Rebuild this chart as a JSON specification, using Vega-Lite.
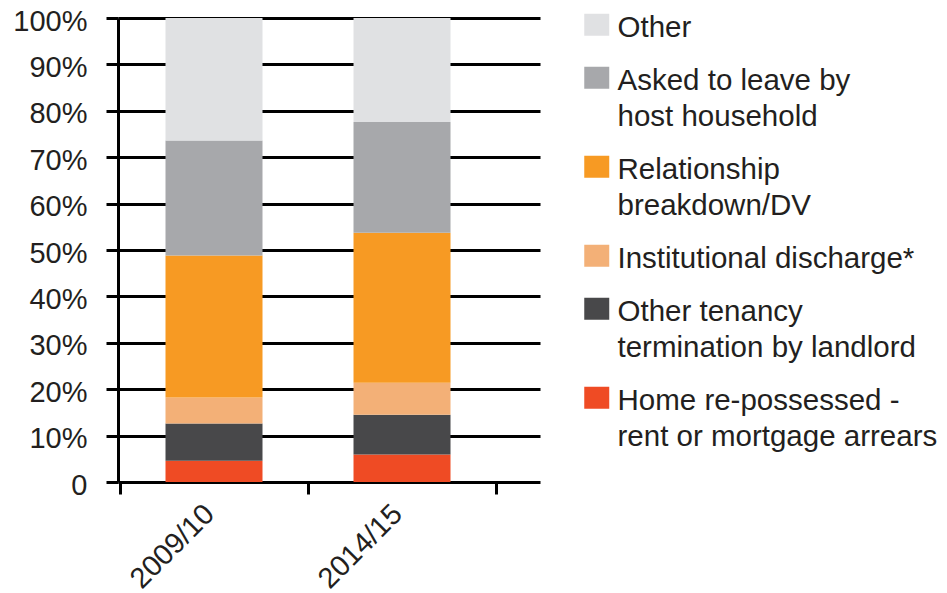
{
  "$schema": "https://vega.github.io/schema/vega-lite/v6.json",
  "autosize": "none",
  "width": 422,
  "height": 464,
  "padding": {"left": 118, "top": 18, "right": 407, "bottom": 111},
  "background": "white",
  "data": {
    "values": [
      {"year": "2009/10", "cause": "Home re-possessed - rent or mortgage arrears", "order": 1, "pct": 4.6},
      {"year": "2009/10", "cause": "Other tenancy termination by landlord", "order": 2, "pct": 8.0},
      {"year": "2009/10", "cause": "Institutional discharge*", "order": 3, "pct": 5.6},
      {"year": "2009/10", "cause": "Relationship breakdown/DV", "order": 4, "pct": 30.6},
      {"year": "2009/10", "cause": "Asked to leave by host household", "order": 5, "pct": 24.8},
      {"year": "2009/10", "cause": "Other", "order": 6, "pct": 26.4},
      {"year": "2014/15", "cause": "Home re-possessed - rent or mortgage arrears", "order": 1, "pct": 5.9},
      {"year": "2014/15", "cause": "Other tenancy termination by landlord", "order": 2, "pct": 8.6},
      {"year": "2014/15", "cause": "Institutional discharge*", "order": 3, "pct": 6.9},
      {"year": "2014/15", "cause": "Relationship breakdown/DV", "order": 4, "pct": 32.3},
      {"year": "2014/15", "cause": "Asked to leave by host household", "order": 5, "pct": 23.9},
      {"year": "2014/15", "cause": "Other", "order": 6, "pct": 22.4}
    ]
  },
  "mark": {"type": "bar", "width": 97},
  "encoding": {
    "x": {
      "field": "year",
      "type": "nominal",
      "scale": {"paddingInner": 0, "paddingOuter": 0.1223, "align": 0.0435},
      "axis": {
        "title": null,
        "domain": false,
        "ticks": true,
        "tickBand": "extent",
        "tickSize": 12,
        "tickWidth": 3,
        "tickColor": "#000000",
        "labelAngle": -45,
        "labelAlign": "right",
        "labelBaseline": "middle",
        "labelPadding": 15,
        "labelOffset": -5,
        "labelFontSize": 29,
        "labelFont": "Liberation Sans",
        "labelColor": "#231f20",
        "grid": false
      }
    },
    "y": {
      "field": "pct",
      "type": "quantitative",
      "stack": "zero",
      "scale": {"domain": [0, 100], "nice": false},
      "axis": {
        "title": null,
        "values": [0, 10, 20, 30, 40, 50, 60, 70, 80, 90, 100],
        "labelExpr": "datum.value == 0 ? '0' : datum.value + '%'",
        "domain": true,
        "domainColor": "#000000",
        "domainWidth": 3,
        "ticks": true,
        "tickSize": 12,
        "tickWidth": 3,
        "tickColor": "#000000",
        "grid": true,
        "gridColor": "#000000",
        "gridWidth": 3,
        "gridOpacity": 1,
        "labelPadding": 19,
        "labelOffset": 3,
        "labelFontSize": 29,
        "labelFont": "Liberation Sans",
        "labelColor": "#231f20"
      }
    },
    "color": {
      "field": "cause",
      "type": "nominal",
      "scale": {
        "domain": ["Other", "Asked to leave by host household", "Relationship breakdown/DV", "Institutional discharge*", "Other tenancy termination by landlord", "Home re-possessed - rent or mortgage arrears"],
        "range": ["#e0e1e3", "#a7a8ab", "#f79a23", "#f3b077", "#48484a", "#ef4b24"]
      },
      "legend": {
        "title": null,
        "orient": "none",
        "legendX": 464,
        "legendY": -8,
        "padding": 0,
        "symbolType": "M-1,-0.88H1V0.88H-1Z",
        "symbolSize": 625,
        "symbolStrokeWidth": 0,
        "symbolOpacity": 1,
        "labelOffset": 6,
        "labelFontSize": 29.5,
        "labelFont": "Liberation Sans",
        "labelColor": "#231f20",
        "labelLimit": 400,
        "labelBaseline": "top",
        "rowPadding": 20,
        "labelExpr": "datum.label == 'Asked to leave by host household' ? ['Asked to leave by', 'host household'] : datum.label == 'Relationship breakdown/DV' ? ['Relationship', 'breakdown/DV'] : datum.label == 'Other tenancy termination by landlord' ? ['Other tenancy', 'termination by landlord'] : datum.label == 'Home re-possessed - rent or mortgage arrears' ? ['Home re-possessed -', 'rent or mortgage arrears'] : datum.label",
        "encode": {
          "labels": {"update": {"dy": {"value": -11}, "lineHeight": {"value": 36}}}
        }
      }
    },
    "order": {"field": "order", "type": "quantitative", "sort": "ascending"}
  },
  "config": {
    "view": {"stroke": null},
    "font": "Liberation Sans"
  }
}
